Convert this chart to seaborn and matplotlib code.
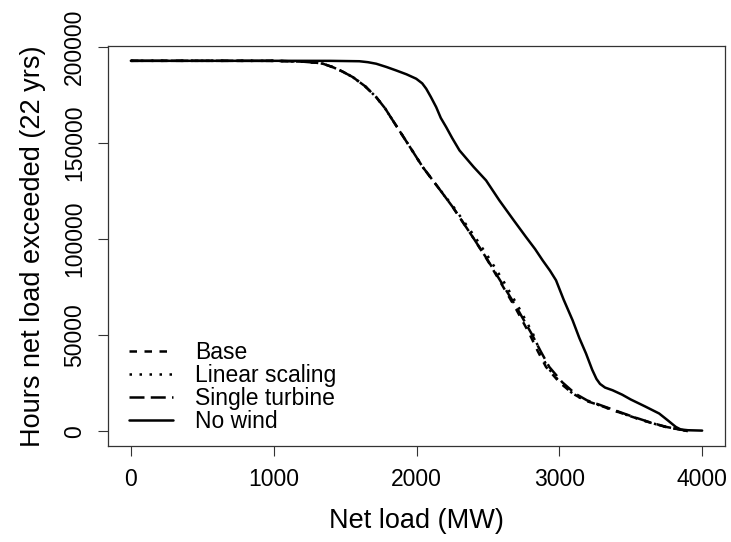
import numpy as np
import pandas as pd
import matplotlib
matplotlib.use("Agg")
import matplotlib.pyplot as plt
import seaborn as sns

# exceedance curves: net load (MW) vs hours exceeded
base_mw = [0, 500, 1000, 1200, 1300, 1345, 1415, 1480, 1555, 1640, 1718, 1780, 1834,
           1940, 2044, 2150, 2254, 2394, 2490, 2580, 2690, 2790, 2850, 2907, 3000,
           3093, 3180, 3280, 3400, 3513, 3630, 3746, 3839, 3900]
base_hrs = [192720, 192720, 192700, 192300, 191700, 191200, 189400, 187200, 184200,
            179500, 173800, 168000, 161700, 149500, 137400, 127000, 116600, 101000,
            89800, 78500, 64500, 50800, 41500, 33400, 25500, 19600, 16000, 13500,
            10300, 7400, 4600, 2200, 900, 0]

linear_mw = [0, 500, 1000, 1200, 1300, 1345, 1415, 1480, 1555, 1640, 1718, 1780, 1834,
             1940, 2044, 2150, 2260, 2410, 2510, 2605, 2715, 2815, 2865, 2915, 3005,
             3093, 3180, 3280, 3400, 3513, 3630, 3746, 3839, 3900]
linear_hrs = [192720, 192720, 192700, 192300, 191700, 191200, 189400, 187200, 184200,
              179500, 173800, 168000, 161700, 149500, 137400, 127000, 116600, 101000,
              89800, 78500, 64500, 50800, 41500, 33400, 25500, 19600, 16000, 13500,
              10300, 7400, 4600, 2200, 900, 0]

single_mw = [0, 500, 1000, 1200, 1300, 1345, 1415, 1480, 1555, 1640, 1718, 1780, 1834,
             1940, 2044, 2150, 2254, 2394, 2492, 2585, 2700, 2805, 2870, 2930, 3020,
             3110, 3195, 3290, 3410, 3520, 3635, 3750, 3845, 3900]
single_hrs = [192720, 192720, 192700, 192300, 191700, 191200, 189400, 187200, 184200,
              179500, 173800, 168000, 161700, 149500, 137400, 127000, 116600, 101000,
              89800, 78500, 64500, 50800, 41500, 33400, 25500, 19600, 16000, 13500,
              10300, 7400, 4600, 2200, 900, 0]

nowind_mw = [0, 500, 1000, 1400, 1600, 1660, 1718, 1790, 1858, 1930, 1998, 2040, 2068,
             2100, 2138, 2170, 2208, 2250, 2301, 2400, 2487, 2580, 2680, 2767, 2830,
             2883, 2935, 2977, 3030, 3093, 3140, 3187, 3230, 3260, 3285, 3320, 3373,
             3440, 3500, 3600, 3699, 3760, 3816, 3850, 3900, 4000]
nowind_hrs = [192720, 192720, 192720, 192700, 192500, 192000, 191200, 189500, 187700,
              185700, 183400, 181000, 178200, 174000, 168600, 163000, 158200, 152500,
              146100, 137500, 130500, 120100, 109800, 101000, 94800, 88900, 83500,
              78500, 68500, 57700, 48500, 40400, 32000, 27200, 24600, 22700, 21300,
              19000, 16500, 12900, 9200, 5600, 2200, 900, 500, 300]

labels = ["Base", "Linear scaling", "Single turbine", "No wind"]
x_ticks = [0, 1000, 2000, 3000, 4000]
y_ticks = [0, 50000, 100000, 150000, 200000]

sns.set_style("ticks")
plt.rcParams["font.family"] = ["Liberation Sans", "DejaVu Sans"]
plt.rcParams["text.color"] = "black"
plt.rcParams["axes.labelcolor"] = "black"
plt.rcParams["xtick.color"] = "black"
plt.rcParams["ytick.color"] = "black"

fig = plt.figure(figsize=(7.31, 5.42), dpi=100)
ax = fig.add_axes([108 / 731, 1 - 446 / 542, (725 - 108) / 731, (446 - 46) / 542])

series = [(base_mw, base_hrs, (3, 3)),
          (linear_mw, linear_hrs, (1, 3)),
          (single_mw, single_hrs, (6, 2.5)),
          (nowind_mw, nowind_hrs, None)]

for (mw, hrs, dash), lab in zip(series, labels):
    df = pd.DataFrame({"mw": mw, "hrs": hrs})
    sns.lineplot(data=df, x="mw", y="hrs", ax=ax, color="black", lw=1.8,
                 sort=False, label=lab)
    if dash is not None:
        ax.lines[-1].set_dashes(dash)

# R-style padding of 4% around the data
ax.set_xlim(-160, 4160)
ax.set_ylim(-7709, 200429)
ax.set_xticks(x_ticks)
ax.set_xticklabels([str(t) for t in x_ticks])
ax.set_yticks(y_ticks)
ax.set_yticklabels([str(t) for t in y_ticks], rotation=90, va="center")
ax.tick_params(axis="both", direction="out", length=7, width=0.8, color="#333333",
               labelsize=16.5, pad=9)
for s in ax.spines.values():
    s.set_visible(True)
    s.set_color("#333333")
    s.set_linewidth(0.9)

ax.set_xlabel("Net load (MW)", fontsize=19.5, labelpad=12)
ax.set_ylabel("Hours net load exceeded (22 yrs)", fontsize=19.5, labelpad=12)

ax.legend(loc="lower left", bbox_to_anchor=(129 / 731, 1 - 433 / 542),
          bbox_transform=fig.transFigure, frameon=False, fontsize=16.5,
          handlelength=1.9, handletextpad=1.0, labelspacing=0.0,
          borderpad=0, borderaxespad=0)

fig.savefig("out.png", dpi=100)
